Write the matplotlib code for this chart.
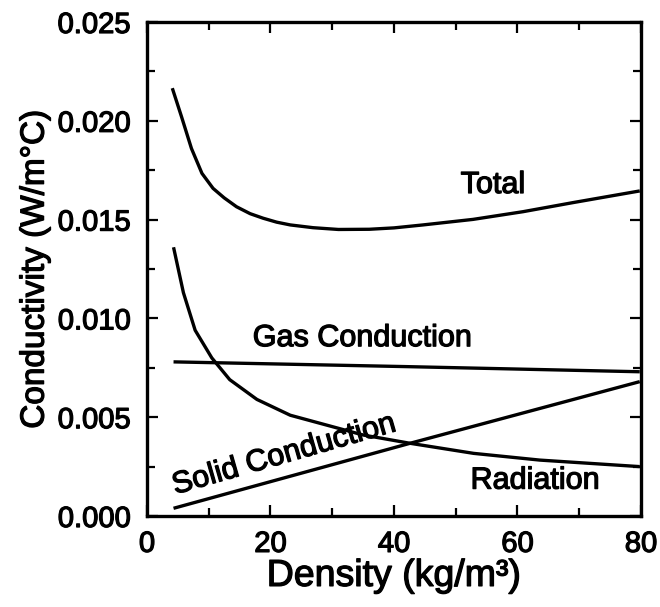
import matplotlib
matplotlib.use("Agg")
import matplotlib.pyplot as plt
import matplotlib.patheffects as pe
from matplotlib.ticker import MultipleLocator

plt.rcParams['font.family'] = ['Liberation Sans', 'DejaVu Sans']

# Thermal conductivity components vs. density
total_x = [4.1, 5.6, 7.2, 8.9, 10.7, 12.5, 14.5, 16.7, 18.8, 21.0, 23.2, 26.9,
           31.0, 36.0, 40.0, 44.7, 52.8, 60.9, 69.0, 79.8]
total_y = [0.02165, 0.0202, 0.0186, 0.01734, 0.01658, 0.0161, 0.01565, 0.0153,
           0.01507, 0.01487, 0.01473, 0.01459, 0.0145, 0.01451, 0.01458,
           0.01473, 0.01501, 0.0154, 0.01586, 0.01645]

rad_x = [4.3, 5.9, 7.8, 10.5, 13.4, 17.8, 23.2, 29.1, 35.0, 42.6, 52.9, 63.6, 79.8]
rad_y = [0.0136, 0.0113, 0.0094, 0.0080, 0.0069, 0.0059, 0.0051, 0.0046,
         0.0041, 0.00368, 0.00317, 0.00283, 0.0025]

gas_x = [4.3, 42.0, 79.8]
gas_y = [0.0078, 0.00756, 0.0073]

solid_x = [4.3, 42.6, 79.8]
solid_y = [0.00039, 0.00368, 0.0068]

fig = plt.figure(figsize=(6.6, 6.07), dpi=100)
ax = fig.add_axes([0.2227, 0.1499, 0.7485, 0.8139])

thick = [pe.withStroke(linewidth=0.9, foreground='black')]

lw = 2.4
for xs, ys in [(total_x, total_y), (rad_x, rad_y), (gas_x, gas_y), (solid_x, solid_y)]:
    ax.plot(xs, ys, color='black', lw=lw, solid_capstyle='butt')

ax.set_xlim(0, 80)
ax.set_ylim(0, 0.025)
ax.xaxis.set_major_locator(MultipleLocator(20))
ax.xaxis.set_minor_locator(MultipleLocator(10))
ax.yaxis.set_major_locator(MultipleLocator(0.005))
ax.yaxis.set_minor_locator(MultipleLocator(0.0025))
ax.yaxis.set_major_formatter(plt.FuncFormatter(lambda v, p: f"{v:.3f}"))

ax.tick_params(which='both', direction='in', top=True, right=True, width=1.6,
               labelsize=21)
ax.tick_params(axis='y', pad=12)
ax.tick_params(axis='x', pad=10)
ax.tick_params(which='major', length=8)
ax.tick_params(which='minor', length=6)
for s in ax.spines.values():
    s.set_linewidth(2.4)
for lab in ax.get_xticklabels() + ax.get_yticklabels():
    lab.set_path_effects(thick)

ax.set_xlabel('Density (kg/m³)', fontsize=27, labelpad=0, path_effects=thick)
ax.set_ylabel('Conductivity (W/m°C)', fontsize=24, labelpad=5, path_effects=thick)

ax.text(56, 0.01675, 'Total', fontsize=22, ha='center', va='center', path_effects=thick)
ax.text(34.8, 0.0090, 'Gas Conduction', fontsize=22, ha='center', va='center',
        path_effects=thick)
ax.text(62.8, 0.00179, 'Radiation', fontsize=22, ha='center', va='center',
        path_effects=thick)
ax.text(22.1, 0.00309, 'Solid Conduction', fontsize=22, ha='center', va='center',
        rotation=16, rotation_mode='anchor', path_effects=thick)

fig.savefig('out.png', dpi=100)
